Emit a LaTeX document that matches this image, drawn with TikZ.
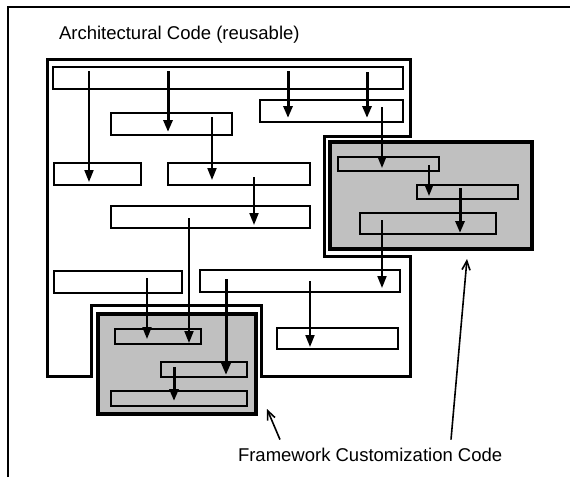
\documentclass[tikz,border=0pt]{standalone}
\usepackage{fontspec}
\setmainfont{Liberation Sans}
\usetikzlibrary{arrows.meta,fit}
\definecolor{panelgray}{RGB}{192,192,192}
\begin{document}
\begin{tikzpicture}[x=1pt,y=-1pt,
  box/.style={draw=black,line width=2.4pt,inner sep=0pt,outer sep=0pt},
  panel/.style={draw=black,line width=3.4pt,fill=panelgray,inner sep=0pt,outer sep=0pt},
  outline/.style={draw=black,line width=3pt,line join=miter},
  arr/.style={line width=1.9pt,-{Triangle[length=12pt,width=9pt]}},
  tarr/.style={line width=3pt,-{Triangle[length=12pt,width=9pt]}},
  ptr/.style={line width=1.6pt,-{Straight Barb[length=9pt,width=8pt]}},
  lbl/.style={inner sep=0pt,outer sep=0pt,font=\fontsize{18.5}{22}\selectfont}]
\useasboundingbox (0,0) rectangle (570,477);
% outer frame
\draw[line width=2.2pt] (8,477) -- (8,7) -- (570,7);
\node[lbl,anchor=base west] (title) at (59,39.5) {Architectural Code (reusable)};
% architectural outline
\draw[outline] (47,376) -- (47,59) -- (410,59) -- (410,136) -- (324,136) -- (324,256)
  -- (410,256) -- (410,376) -- (261,376) -- (261,305) -- (91,305) -- (91,376) -- cycle;
% gray panels
\node[panel,fit={(330,142) (532,249)}] (P1) {};
\node[panel,fit={(98,314) (256,414)}] (P2) {};
% boxes
\node[box,fit={(53,67) (403,89)}] (A) {};
\node[box,fit={(111,113) (232,135)}] (B) {};
\node[box,fit={(260,100) (403,122)}] (C) {};
\node[box,fit={(54,163) (141,185)}] (D) {};
\node[box,fit={(168,163) (310,185)}] (E) {};
\node[box,fit={(111,206) (310,228)}] (F) {};
\node[box,fit={(338,157) (439,171)}] (G) {};
\node[box,fit={(417,185) (518,199)}] (H) {};
\node[box,fit={(360,213) (496,234)}] (I) {};
\node[box,fit={(54,271) (182,293)}] (J) {};
\node[box,fit={(200,270) (400,292)}] (K) {};
\node[box,fit={(277,328) (398,349)}] (L) {};
\node[box,fit={(115,329) (201,344)}] (M) {};
\node[box,fit={(161,362) (247,377)}] (N) {};
\node[box,fit={(111,391) (247,406)}] (O) {};
% arrows
\draw[arr]  ([yshift=-4pt]89,0 |- A.north)  -- ([yshift=3pt]89,0 |- D.south);
\draw[tarr] ([yshift=-4pt]168,0 |- A.north) -- ([yshift=3pt]168,0 |- B.south);
\draw[tarr] ([yshift=-4pt]288,0 |- A.north) -- ([yshift=4pt]288,0 |- C.south);
\draw[tarr] ([yshift=-5pt]367,0 |- A.north) -- ([yshift=4pt]367,0 |- C.south);
\draw[arr]  ([yshift=-4pt]212,0 |- B.north) -- ([yshift=5pt]212,0 |- E.south);
\draw[arr]  ([yshift=-14pt]254,0 |- E.north) -- ([yshift=3pt]254,0 |- F.south);
\draw[arr]  ([yshift=-12pt]189,0 |- F.north) -- ([yshift=1pt]189,0 |- M.south);
\draw[arr]  ([yshift=-7pt]382,0 |- C.north) -- ([yshift=3pt]382,0 |- G.south);
\draw[arr]  ([yshift=-8pt]429,0 |- G.north) -- ([yshift=3pt]429,0 |- H.south);
\draw[tarr] ([yshift=-3pt]460,0 |- H.north) -- ([yshift=1pt]460,0 |- I.south);
\draw[arr]  ([yshift=-7pt]382,0 |- I.north) -- ([yshift=4pt]382,0 |- K.south);
\draw[arr]  ([yshift=-7pt]147,0 |- J.north) -- ([yshift=5pt]147,0 |- M.south);
\draw[tarr] ([yshift=-9pt]226,0 |- K.north) -- ([yshift=2pt]226,0 |- N.south);
\draw[arr]  ([yshift=-11pt]310,0 |- K.north) -- ([yshift=2pt]310,0 |- L.south);
\draw[tarr] ([yshift=-5pt]174,0 |- N.north) -- ([yshift=5pt]174,0 |- O.south);
% label and pointers
\node[lbl,anchor=base west] (fcc) at (238,461) {Framework Customization Code};
\coordinate (t1) at (467,259);
\coordinate (t2) at (267,409);
\draw[ptr] ([yshift=8pt]451,0 |- fcc.north) -- (t1);
\draw[ptr] ([yshift=8pt]280,0 |- fcc.north) -- (t2);
\end{tikzpicture}
\end{document}
